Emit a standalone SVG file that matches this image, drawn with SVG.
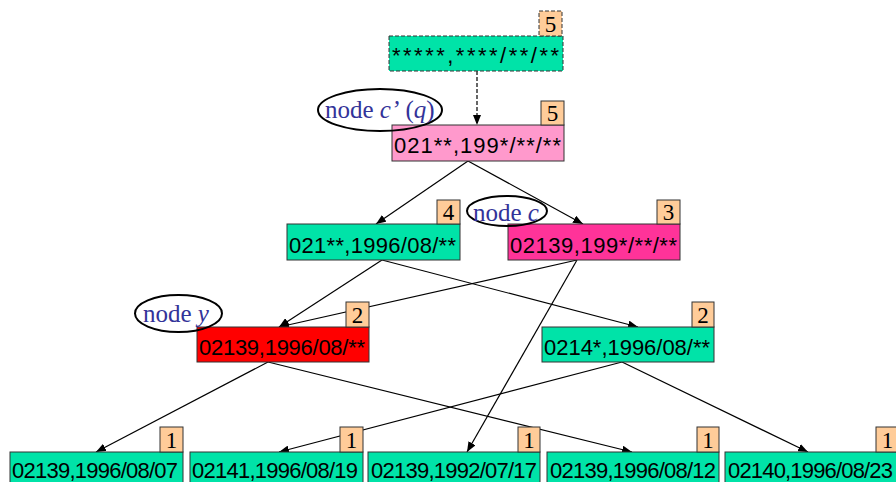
<svg xmlns="http://www.w3.org/2000/svg" width="896" height="482" viewBox="0 0 896 482">
<defs>
<marker id="ah" markerUnits="userSpaceOnUse" markerWidth="10" markerHeight="8" refX="10" refY="4" orient="auto">
<path d="M0,0 L10,4 L0,8 z" fill="#000"/>
</marker>
<style>
.box{stroke:#333;stroke-width:1}
.g{fill:#00E3A8}
.pk{fill:#FF99CC}
.hp{fill:#FF3399}
.rd{fill:#FF0000}
.bd{fill:#FFCC99;stroke:#333;stroke-width:1}
.dash{stroke-dasharray:4,2}
.t{font-family:"Liberation Sans",Arial,sans-serif;font-size:22px;fill:#000}
.bt{font-family:"Liberation Serif","Times New Roman",serif;font-size:23px;fill:#000;text-anchor:middle}
.lb{font-family:"Liberation Serif","Times New Roman",serif;font-size:25px;fill:#333399}
.el{fill:none;stroke:#000;stroke-width:2}
.c{stroke:#000;stroke-width:1.2;fill:none}
</style>
</defs>
<rect width="896" height="482" fill="#fff"/>

<g id="connectors">
<line class="c dash" x1="477" y1="71" x2="477" y2="125" marker-end="url(#ah)"/>
<line class="c" x1="468" y1="161" x2="376" y2="224" marker-end="url(#ah)"/>
<line class="c" x1="468" y1="161" x2="583" y2="224" marker-end="url(#ah)"/>
<line class="c" x1="382" y1="260" x2="279" y2="327" marker-end="url(#ah)"/>
<line class="c" x1="382" y1="260" x2="638" y2="327" marker-end="url(#ah)"/>
<line class="c" x1="577" y1="260" x2="279" y2="327" marker-end="url(#ah)"/>
<line class="c" x1="577" y1="260" x2="467" y2="452" marker-end="url(#ah)"/>
<line class="c" x1="268" y1="362" x2="96" y2="452" marker-end="url(#ah)"/>
<line class="c" x1="268" y1="362" x2="632" y2="452" marker-end="url(#ah)"/>
<line class="c" x1="622" y1="362" x2="279" y2="452" marker-end="url(#ah)"/>
<line class="c" x1="622" y1="362" x2="808" y2="452" marker-end="url(#ah)"/>
</g>

<g id="node-top">
<rect class="box g dash" x="389" y="36" width="174" height="35"/>
<rect class="bd dash" x="539" y="11" width="23" height="25"/>
<text class="bt" x="550.5" y="32">5</text>
<text class="t" x="392" y="63" textLength="167">*****,****/**/**</text>
</g>

<g id="node-cprime">
<rect class="box pk" x="392" y="125" width="172" height="36"/>
<rect class="bd" x="541" y="101" width="23" height="24"/>
<text class="bt" x="552.5" y="121">5</text>
<text class="t" x="394" y="153" textLength="167">021**,199*/**/**</text>
</g>

<g id="node-l2a">
<rect class="box g" x="287" y="224" width="173" height="36"/>
<rect class="bd" x="437" y="200" width="23" height="24"/>
<text class="bt" x="448.5" y="220">4</text>
<text class="t" x="289" y="253" textLength="167">021**,1996/08/**</text>
</g>

<g id="node-c">
<rect class="box hp" x="508" y="224" width="172" height="36"/>
<rect class="bd" x="657" y="200" width="23" height="24"/>
<text class="bt" x="668.5" y="220">3</text>
<text class="t" x="510" y="253" textLength="167">02139,199*/**/**</text>
</g>

<g id="node-y">
<rect class="box rd" x="197" y="327" width="172" height="35"/>
<rect class="bd" x="346" y="302" width="23" height="25"/>
<text class="bt" x="357.5" y="323">2</text>
<text class="t" x="199" y="355" textLength="166">02139,1996/08/**</text>
</g>

<g id="node-l3b">
<rect class="box g" x="542" y="327" width="172" height="35"/>
<rect class="bd" x="692" y="302" width="22" height="25"/>
<text class="bt" x="703" y="323">2</text>
<text class="t" x="544" y="355" textLength="166">0214*,1996/08/**</text>
</g>

<g id="leaf-1">
<rect class="box g" x="10" y="452" width="173" height="36"/>
<rect class="bd" x="160" y="427" width="23" height="25"/>
<text class="bt" x="171.5" y="448">1</text>
<text class="t" x="12" y="478" textLength="166">02139,1996/08/07</text>
</g>

<g id="leaf-2">
<rect class="box g" x="190" y="452" width="173" height="36"/>
<rect class="bd" x="340" y="427" width="23" height="25"/>
<text class="bt" x="351.5" y="448">1</text>
<text class="t" x="192" y="478" textLength="166">02141,1996/08/19</text>
</g>

<g id="leaf-3">
<rect class="box g" x="368" y="452" width="172" height="36"/>
<rect class="bd" x="518" y="427" width="22" height="25"/>
<text class="bt" x="529" y="448">1</text>
<text class="t" x="371" y="478" textLength="166">02139,1992/07/17</text>
</g>

<g id="leaf-4">
<rect class="box g" x="547" y="452" width="172" height="36"/>
<rect class="bd" x="697" y="427" width="22" height="25"/>
<text class="bt" x="708" y="448">1</text>
<text class="t" x="550" y="478" textLength="166">02139,1996/08/12</text>
</g>

<g id="leaf-5">
<rect class="box g" x="725" y="452" width="173" height="36"/>
<rect class="bd" x="876" y="427" width="23" height="25"/>
<text class="bt" x="887.5" y="448">1</text>
<text class="t" x="728" y="478" textLength="165">02140,1996/08/23</text>
</g>

<g id="label-cprime">
<ellipse class="el" cx="380" cy="110" rx="62" ry="21"/>
<text class="lb" x="325" y="118">node <tspan font-style="italic">c’</tspan> (<tspan font-style="italic">q</tspan>)</text>
</g>

<g id="label-c">
<ellipse class="el" cx="507" cy="211" rx="40" ry="15"/>
<text class="lb" x="473" y="221">node <tspan font-style="italic">c</tspan></text>
</g>

<g id="label-y">
<ellipse class="el" cx="178.5" cy="313.5" rx="43.5" ry="18.5"/>
<text class="lb" x="143" y="322">node <tspan font-style="italic">y</tspan></text>
</g>
</svg>
